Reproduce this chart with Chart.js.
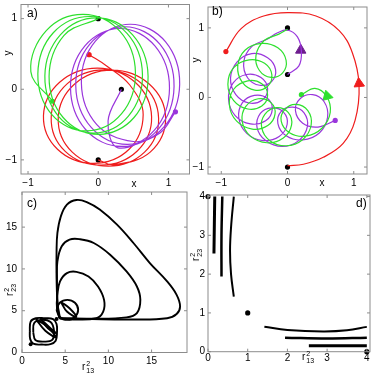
<!DOCTYPE html>
<html>
<head>
<meta charset="UTF-8">
<title>Three-body trajectories</title>
<script src="https://cdn.jsdelivr.net/npm/chart.js"></script>
<style>
  html, body { margin: 0; padding: 0; background: #fff; }
  #wrap {
    position: relative; width: 374px; height: 375px; overflow: hidden;
    font-family: 'Liberation Sans', Arial, sans-serif; color: #000;
  }
  canvas { position: absolute; left: 0; top: 0; }
  .lab { position: absolute; font-size: 10px; line-height: 10px; white-space: nowrap; transform: translate(-50%, -50%); }
  .lab.rot { transform: translate(-50%, -50%) rotate(-90deg); }
  .pan { position: absolute; font-size: 12px; line-height: 12px; }
  .ss { display: inline-flex; flex-direction: column; font-size: 7px; line-height: 7px; vertical-align: middle; margin-left: 1px; }
</style>
</head>
<body>
<div id="wrap">
  <canvas id="ca" width="374" height="375"></canvas>
  <canvas id="cb" width="374" height="375"></canvas>
  <canvas id="cc" width="374" height="375"></canvas>
  <canvas id="cd" width="374" height="375"></canvas>

  <div class="pan" style="left:27px;top:7px">a)</div>
  <div class="pan" style="left:212px;top:5px">b)</div>
  <div class="pan" style="left:27px;top:197px">c)</div>
  <div class="pan" style="left:356px;top:197px">d)</div>

  <div class="lab" style="left:134px;top:184px">x</div>
  <div class="lab rot" style="left:8px;top:53px">y</div>
  <div class="lab" style="left:322px;top:183px">x</div>
  <div class="lab rot" style="left:196px;top:60px">y</div>

  <div class="lab" style="left:88px;top:367px">r<span class="ss"><span>2</span><span>13</span></span></div>
  <div class="lab rot" style="left:10px;top:290px">r<span class="ss"><span>2</span><span>23</span></span></div>
  <div class="lab" style="left:308px;top:357px">r<span class="ss"><span>2</span><span>13</span></span></div>
  <div class="lab rot" style="left:196px;top:255px">r<span class="ss"><span>2</span><span>23</span></span></div>
</div>

<script>
  // ---- panel a) trajectories (x, y)
  const aRed = [
    [-0.13, 0.49], [0.12, 0.33], [0.45, 0.06],
    [0.64, -0.36], [0.44, -0.85], [-0.07, -1.05], [-0.58, -0.85], [-0.78, -0.375], [-0.55, 0.10], [-0.01, 0.30], [0.53, 0.095],
    [0.76, -0.39], [0.56, -0.87], [0.045, -1.075], [-0.47, -0.88], [-0.67, -0.40], [-0.44, 0.08], [0.095, 0.275], [0.63, 0.07],
    [0.86, -0.41], [0.66, -0.89], [0.145, -1.09], [-0.37, -0.89], [-0.57, -0.41], [-0.34, 0.07], [0.195, 0.27], [0.73, 0.07],
    [0.96, -0.41], [0.74, -0.89], [0.22, -1.07], [0.00, -1.00]
  ];
  const aGreen = [
    [-0.65, -0.17],
    [-0.96, 0.25], [-0.74, 0.83], [-0.215, 1.06], [0.31, 0.82], [0.53, 0.235], [0.33, -0.35], [-0.165, -0.59], [-0.66, -0.36],
    [-0.86, 0.22], [-0.64, 0.80], [-0.115, 1.03], [0.41, 0.79], [0.63, 0.205], [0.43, -0.38], [-0.065, -0.62], [-0.56, -0.39],
    [-0.76, 0.19], [-0.54, 0.77], [-0.025, 1.01], [0.49, 0.77], [0.71, 0.185], [0.51, -0.40], [0.005, -0.64], [-0.50, -0.40],
    [-0.70, 0.18], [-0.49, 0.76], [0.00, 1.00]
  ];
  const aPurple = [
    [1.10, -0.32], [0.88, -0.62],
    [0.50, -0.74], [-0.02, -0.50], [-0.24, 0.09], [-0.04, 0.68], [0.46, 0.92], [0.96, 0.67], [1.16, 0.07], [0.94, -0.53],
    [0.42, -0.78], [-0.10, -0.54], [-0.32, 0.05], [-0.12, 0.64], [0.38, 0.885], [0.88, 0.635], [1.08, 0.04], [0.86, -0.56],
    [0.34, -0.81], [-0.18, -0.57], [-0.395, 0.025], [-0.19, 0.615], [0.31, 0.86], [0.81, 0.61], [1.015, 0.015], [0.80, -0.58],
    [0.28, -0.83], [0.14, -0.45], [0.33, 0.00]
  ];
  const aDotsBlack = [[0, 1], [0.33, 0], [0, -1]];
  const aDotRed = [[-0.13, 0.49]];
  const aDotGreen = [[-0.65, -0.17]];
  const aDotPurple = [[1.10, -0.32]];

  // ---- panel b)
  const bRed = [
    [0.00, -0.98], [0.24, -0.96], [0.54, -0.86], [0.84, -0.66], [1.02, -0.33],
    [1.08, 0.18], [0.98, 0.64], [0.78, 0.96], [0.43, 1.17], [0.00, 1.22],
    [-0.36, 1.17], [-0.70, 0.99], [-0.93, 0.66]
  ];
  const bGreen = [
    [0.21, 0.04],
    [0.415, 0.13], [0.59, 0.016], [0.645, -0.214], [0.52, -0.443], [0.275, -0.556], [0.03, -0.506], [-0.095, -0.34],
    [-0.04, -0.172], [0.13, -0.10], [0.307, -0.19], [0.357, -0.396], [0.232, -0.603], [-0.018, -0.694], [-0.267, -0.621], [-0.39, -0.431],
    [-0.342, -0.242], [-0.166, -0.146], [0.01, -0.215], [0.061, -0.399], [-0.063, -0.583], [-0.311, -0.651], [-0.56, -0.556], [-0.684, -0.344],
    [-0.632, -0.132], [-0.442, -0.019], [-0.253, -0.07], [-0.188, -0.236], [-0.298, -0.403], [-0.532, -0.454], [-0.767, -0.341], [-0.877, -0.111],
    [-0.812, 0.118], [-0.60, 0.239], [-0.388, 0.196], [-0.30, 0.036], [-0.388, -0.123], [-0.60, -0.166], [-0.812, -0.046], [-0.90, 0.191],
    [-0.812, 0.428], [-0.579, 0.541], [-0.346, 0.49], [-0.236, 0.324], [-0.303, 0.157], [-0.494, 0.106], [-0.684, 0.22], [-0.751, 0.449],
    [-0.642, 0.678], [-0.394, 0.777], [-0.146, 0.713], [-0.021, 0.532], [-0.073, 0.352], [-0.248, 0.288], [-0.424, 0.387], [-0.476, 0.602],
    [-0.352, 0.818], [-0.13, 0.91], [0.00, 0.98]
  ];
  const bPurple = [
    [0.00, 0.33], [0.17, 0.45], [0.21, 0.66], [0.15, 0.87], [0.00, 0.97], [-0.15, 0.93],
    [-0.30, 0.84], [-0.54, 0.73], [-0.66, 0.51], [-0.60, 0.28], [-0.42, 0.175], [-0.24, 0.23], [-0.18, 0.40], [-0.30, 0.57],
    [-0.54, 0.63], [-0.76, 0.51], [-0.86, 0.275], [-0.78, 0.04], [-0.58, -0.08], [-0.38, -0.036], [-0.30, 0.125], [-0.40, 0.286],
    [-0.62, 0.33], [-0.82, 0.21], [-0.89, -0.025], [-0.79, -0.26], [-0.56, -0.38], [-0.33, -0.336], [-0.23, -0.175], [-0.30, -0.015],
    [-0.50, 0.03], [-0.68, -0.075], [-0.735, -0.295], [-0.615, -0.516], [-0.37, -0.62], [-0.126, -0.561], [-0.005, -0.385], [-0.061, -0.21],
    [-0.24, -0.15], [-0.41, -0.23], [-0.46, -0.43], [-0.33, -0.62], [-0.08, -0.705], [0.17, -0.62], [0.30, -0.42], [0.25, -0.22],
    [0.08, -0.14], [-0.095, -0.20], [-0.145, -0.375], [-0.02, -0.55], [0.23, -0.61], [0.48, -0.51], [0.605, -0.285], [0.555, -0.065],
    [0.38, 0.04], [0.19, -0.018], [0.12, -0.19], [0.23, -0.37], [0.46, -0.425], [0.72, -0.33]
  ];
  const bDotsBlack = [[0, 1], [0, 0.33], [0, -1]];
  const bDotRed = [[-0.93, 0.66]];
  const bDotGreen = [[0.21, 0.04]];
  const bDotPurple = [[0.72, -0.33]];
  const bArrowRed = [[1.08, 0.20]];
  const bArrowGreen = [[0.60, 0.02]];
  const bArrowPurple = [[0.20, 0.68]];

  // ---- panel c) r13^2 vs r23^2
  const cLoop1 = [
    [4.3, 4.1], [4.1, 6.0], [4.0, 9.0], [4.0, 12.0], [4.1, 14.3], [4.5, 16.3], [5.2, 17.7],
    [6.3, 18.25], [7.5, 18.0], [9.0, 17.1], [11.0, 15.3], [12.9, 13.1], [14.8, 10.7],
    [16.8, 8.5], [17.9, 6.9], [18.3, 5.5], [17.9, 4.6], [16.8, 4.1], [12.9, 3.95],
    [8.0, 4.0], [4.3, 4.1]
  ];
  const cLoop2 = [
    [4.4, 4.1], [4.1, 6.0], [4.05, 9.0], [4.1, 10.9], [4.6, 12.7], [5.5, 13.5], [6.7, 13.55],
    [8.3, 13.1], [10.2, 11.7], [12.1, 9.7], [13.3, 7.9], [13.7, 6.3], [13.3, 4.7],
    [12.1, 4.2], [8.0, 4.05], [4.4, 4.1]
  ];
  const cLoop3 = [
    [4.4, 4.1], [4.05, 5.3], [4.1, 6.9], [4.4, 8.5], [5.2, 9.5], [6.3, 9.65], [7.7, 9.1],
    [8.8, 7.9], [9.5, 6.3], [9.4, 4.9], [8.6, 4.1], [5.9, 3.95], [4.4, 4.1]
  ];
  const cLoop4 = [
    [4.0, 5.1], [4.37, 5.95], [5.25, 6.3], [6.13, 5.95], [6.5, 5.1],
    [6.13, 4.25], [5.25, 3.9], [4.37, 4.25], [4.0, 5.1]
  ];
  const cLens4 = [[4.5, 6.05], [5.5, 5.3], [6.3, 4.25], [5.2, 4.9], [4.5, 6.05]];
  const cSqA = [
    [0.9, 2.5], [1.0, 3.7], [1.6, 4.1], [2.6, 4.1], [3.6, 4.0], [4.0, 3.4], [4.05, 2.4],
    [3.9, 1.4], [3.3, 1.0], [2.3, 0.95], [1.3, 1.05], [0.95, 1.6], [0.9, 2.5]
  ];
  const cSqB = [
    [1.3, 2.4], [1.4, 3.5], [2.2, 3.9], [3.3, 3.65], [3.7, 2.6], [3.5, 1.5],
    [2.5, 1.3], [1.55, 1.5], [1.3, 2.4]
  ];
  const cLensA = [[1.6, 4.0], [2.9, 3.1], [3.95, 1.8], [2.7, 2.6], [1.6, 4.0]];
  const cLensB = [[2.1, 4.05], [3.2, 3.0], [3.95, 2.3], [3.0, 2.9], [2.1, 4.05]];
  const cDots = [[1, 1], [4, 4]];

  // ---- panel d)
  const dV1 = [[0.17, 4.0], [0.16, 3.3], [0.15, 2.53]];
  const dV2 = [[0.36, 4.0], [0.34, 3.0], [0.34, 1.94]];
  const dV3 = [[0.65, 4.0], [0.58, 3.2], [0.555, 2.6], [0.58, 2.0], [0.65, 1.42]];
  const dH1 = [[1.42, 0.645], [2.0, 0.56], [2.9, 0.52], [3.5, 0.55], [4.0, 0.64]];
  const dH2 = [[1.94, 0.36], [3.0, 0.34], [4.0, 0.36]];
  const dH3 = [[2.54, 0.155], [3.3, 0.155], [4.0, 0.155]];
  const dDots = [[0, 4], [1, 1], [4, 0]];

  // axis ranges and tick labels
  const aXRange = [-1.1, 1.3], aYRange = [-1.2, 1.2];
  const bXRange = [-1.2, 1.2], bYRange = [-1.1, 1.3];
  const cXRange = [0, 19.1], cYRange = [0, 19.2];
  const dXRange = [0, 4.08], dYRange = [0, 4.04];
  const abTicks = [-1, 0, 1];
  const cTicks = [0, 5, 10, 15];
  const dTicks = [0, 1, 2, 3, 4];

  const RED = '#ef1d1d', GREEN = '#2ee02e', PURPLE = '#9a36dc';

  const pts = arr => arr.map(p => ({ x: p[0], y: p[1] }));
  const line = (arr, color, w, t) => ({
    data: pts(arr), showLine: true, borderColor: color, borderWidth: w,
    tension: t, pointRadius: 0, pointHitRadius: 0
  });
  const dots = (arr, color, r) => ({
    data: pts(arr), showLine: false, pointRadius: r, backgroundColor: color,
    borderWidth: 0, clip: false
  });
  const arrow = (arr, color, rot) => ({
    data: pts(arr), showLine: false, pointStyle: 'triangle', pointRadius: 6,
    rotation: rot, backgroundColor: color, borderColor: color, borderWidth: 1, clip: false
  });

  // box frame with small inward ticks, like the original
  const boxPlugin = {
    id: 'box',
    afterDraw(chart) {
      const { ctx, chartArea: a, scales } = chart;
      ctx.save();
      ctx.strokeStyle = '#8c8c8c';
      ctx.lineWidth = 1;
      ctx.strokeRect(a.left, a.top, a.right - a.left, a.bottom - a.top);
      ctx.beginPath();
      scales.x.ticks.forEach(t => {
        const p = scales.x.getPixelForValue(t.value);
        ctx.moveTo(p, a.bottom); ctx.lineTo(p, a.bottom - 3);
        ctx.moveTo(p, a.top); ctx.lineTo(p, a.top + 3);
      });
      scales.y.ticks.forEach(t => {
        const p = scales.y.getPixelForValue(t.value);
        ctx.moveTo(a.left, p); ctx.lineTo(a.left + 3, p);
        ctx.moveTo(a.right, p); ctx.lineTo(a.right - 3, p);
      });
      ctx.stroke();
      ctx.restore();
    }
  };

  const fmt = v => String(v).replace('-', '\u2212');
  const tickFont = { family: 'Liberation Sans', size: 10 };

  function panel(id, area, xr, yr, xt, yt, datasets, padX, padY) {
    const yW = Math.min(24, area.l), xH = 16;
    return new Chart(document.getElementById(id), {
      type: 'scatter',
      data: { datasets },
      options: {
        responsive: false,
        animation: false,
        devicePixelRatio: 1,
        layout: { padding: { left: area.l - yW, right: 374 - area.r, top: area.t, bottom: 375 - area.b - xH } },
        plugins: { legend: { display: false }, tooltip: { enabled: false } },
        scales: {
          x: {
            type: 'linear', position: 'bottom', min: xr[0], max: xr[1],
            grid: { display: false, drawTicks: false }, border: { display: false },
            ticks: { padding: padX, color: '#000', font: tickFont, maxRotation: 0, autoSkip: false, callback: fmt },
            afterBuildTicks: s => { s.ticks = xt.map(v => ({ value: v })); },
            afterFit: s => { s.height = xH; s.paddingLeft = s.paddingRight = s.paddingTop = s.paddingBottom = 0; }
          },
          y: {
            type: 'linear', position: 'left', min: yr[0], max: yr[1],
            grid: { display: false, drawTicks: false }, border: { display: false },
            ticks: { padding: padY, color: '#000', font: tickFont, autoSkip: false, callback: fmt },
            afterBuildTicks: s => { s.ticks = yt.map(v => ({ value: v })); },
            afterFit: s => { s.width = yW; s.paddingLeft = s.paddingRight = s.paddingTop = s.paddingBottom = 0; }
          }
        }
      },
      plugins: [boxPlugin]
    });
  }

  panel('ca', { l: 21, r: 189.5, t: 4.5, b: 174 }, aXRange, aYRange, abTicks, abTicks, [
    line(aGreen, GREEN, 1.2, 0.38),
    line(aPurple, PURPLE, 1.2, 0.38),
    line(aRed, RED, 1.2, 0.38),
    dots(aDotRed, RED, 2.6), dots(aDotGreen, GREEN, 2.6), dots(aDotPurple, PURPLE, 2.6),
    dots(aDotsBlack, '#000', 2.6)
  ], 3, 4);

  panel('cb', { l: 208, r: 370, t: 3, b: 174 }, bXRange, bYRange, abTicks, abTicks, [
    line(bRed, RED, 1.2, 0.4),
    line(bGreen, GREEN, 1.2, 0.38),
    line(bPurple, PURPLE, 1.2, 0.38),
    dots(bDotRed, RED, 2.6), dots(bDotGreen, GREEN, 2.6), dots(bDotPurple, PURPLE, 2.6),
    dots(bDotsBlack, '#000', 2.6),
    arrow(bArrowRed, RED, -5), arrow(bArrowGreen, GREEN, 105), arrow(bArrowPurple, '#6e1d8e', 0)
  ], 3, 4);

  panel('cc', { l: 22, r: 187, t: 192, b: 352.5 }, cXRange, cYRange, cTicks, cTicks, [
    line(cLoop1, '#000', 1.9, 0.4),
    line(cLoop2, '#000', 1.9, 0.4),
    line(cLoop3, '#000', 1.9, 0.4),
    line(cLoop4, '#000', 1.9, 0.4),
    line(cLens4, '#000', 1.9, 0.4),
    line(cSqA, '#000', 1.9, 0.4),
    line(cSqB, '#000', 1.9, 0.4),
    line(cLensA, '#000', 1.9, 0.4),
    line(cLensB, '#000', 1.9, 0.4),
    dots(cDots, '#000', 2)
  ], 2.5, 5);

  panel('cd', { l: 208, r: 370, t: 195, b: 351.7 }, dXRange, dYRange, dTicks, dTicks, [
    line(dV1, '#000', 3, 0.4),
    line(dV2, '#000', 2.5, 0.4),
    line(dV3, '#000', 2, 0.4),
    line(dH1, '#000', 2, 0.4),
    line(dH2, '#000', 2.5, 0.4),
    line(dH3, '#000', 3, 0.4),
    dots(dDots, '#000', 2.6)
  ], 1, 3);
</script>
</body>
</html>
